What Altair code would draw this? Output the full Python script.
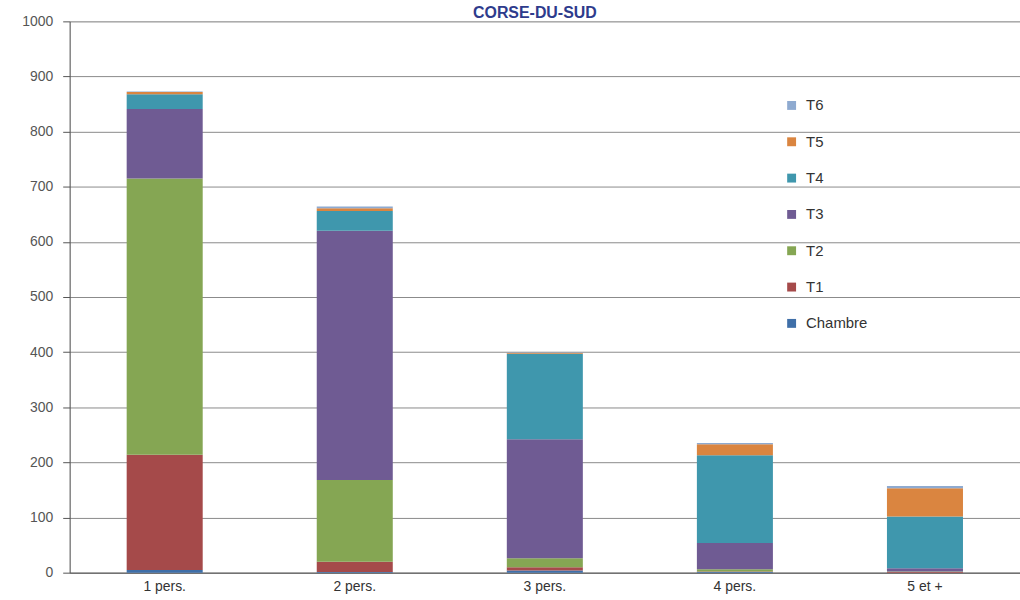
import altair as alt
import pandas as pd

categories = ["1 pers.", "2 pers.", "3 pers.", "4 pers.", "5 et +"]
series = ["Chambre", "T1", "T2", "T3", "T4", "T5", "T6"]
values = {
    "Chambre": [5, 1, 4, 1, 0],
    "T1": [209, 19, 6, 1, 1],
    "T2": [501, 148, 16, 4, 1],
    "T3": [126, 452, 216, 48, 6],
    "T4": [27, 36, 155, 159, 94],
    "T5": [4, 5, 2, 20, 51],
    "T6": [1, 3, 1, 2, 4],
}
colors = {
    "Chambre": "#3F6FA8",
    "T1": "#A54A4A",
    "T2": "#85A653",
    "T3": "#6F5B93",
    "T4": "#3F97AD",
    "T5": "#DA8540",
    "T6": "#8EAAD0",
}
yticks = [0, 100, 200, 300, 400, 500, 600, 700, 800, 900, 1000]

rows = []
for si, s in enumerate(series):
    for ci, c in enumerate(categories):
        rows.append({"cat": c, "serie": s, "val": values[s][ci], "idx": si})
df = pd.DataFrame(rows)

legend_order = list(reversed(series))

chart = alt.Chart(df).mark_bar().encode(
    x=alt.X("cat:N", sort=categories,
            scale=alt.Scale(paddingInner=0.6, paddingOuter=0.3),
            axis=alt.Axis(title=None, labelAngle=0, ticks=False, domainColor="#555",
                          labelFontSize=14, labelColor="#333", labelPadding=7,
                          labelFont="Liberation Sans")),
    y=alt.Y("val:Q", stack="zero",
            scale=alt.Scale(domain=[0, 1000], nice=False),
            axis=alt.Axis(title=None, values=yticks, format="d", tickSize=7,
                          tickColor="#555", domainColor="#555",
                          gridColor="#8a8a8a", gridWidth=1,
                          labelFontSize=14, labelColor="#555", labelPadding=10,
                          labelFont="Liberation Sans")),
    color=alt.Color("serie:N",
                    scale=alt.Scale(domain=legend_order,
                                    range=[colors[s] for s in legend_order]),
                    legend=alt.Legend(title=None, orient="none", legendX=718, legendY=77,
                                      symbolType="square", symbolSize=80,
                                      symbolStrokeWidth=0,
                                      labelFontSize=15, labelColor="#333",
                                      labelFont="Liberation Sans",
                                      rowPadding=20.5, labelOffset=7)),
    order=alt.Order("idx:Q", sort="ascending"),
).properties(
    width=955,
    height=554,
    title=alt.TitleParams("CORSE-DU-SUD", fontSize=16, fontWeight="bold",
                          color="#2E3B8C", font="Liberation Sans",
                          anchor="middle", offset=2, dy=9, dx=-10),
    autosize=alt.AutoSizeParams(type="none"),
    padding={"left": 70, "top": 20, "right": 0, "bottom": 26},
).configure_view(stroke=None).configure(background="white")

chart.save("out.html", embed_options={"renderer": "svg", "actions": False})
